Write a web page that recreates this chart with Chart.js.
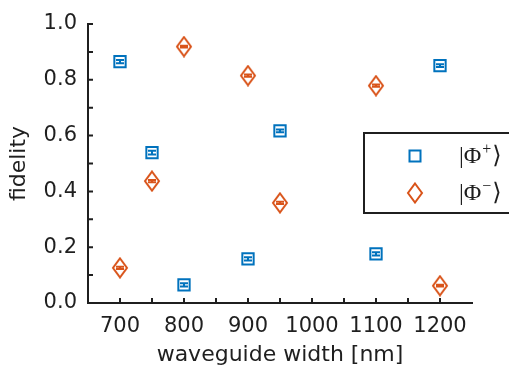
<!DOCTYPE html>
<html>
<head>
<meta charset="utf-8">
<script src="https://cdn.jsdelivr.net/npm/chart.js@4"></script>
<style>
html, body { margin: 0; padding: 0; background: #fff; }
#wrap { width: 509px; height: 366px; }
</style>
</head>
<body>
<div id="wrap"><canvas id="grafico" width="509" height="366"></canvas></div>
<script>
// widths of the waveguides (nm) and measured fidelities
const widths = [700, 750, 800, 900, 950, 1100, 1200];
const phiPlus = [0.865, 0.539, 0.065, 0.158, 0.617, 0.176, 0.851];
const phiPlusErr = [0.006, 0.007, 0.006, 0.006, 0.005, 0.006, 0.005];
const phiMinus = [0.126, 0.437, 0.919, 0.815, 0.359, 0.779, 0.062];
const phiMinusErr = [0.004, 0.004, 0.003, 0.004, 0.004, 0.004, 0.003];

const xTicks = [700, 800, 900, 1000, 1100, 1200];
const yTicks = [0, 0.2, 0.4, 0.6, 0.8, 1.0];
const xMinor = [700, 750, 800, 850, 900, 950, 1000, 1050, 1100, 1150, 1200];
const yMinor = [0, 0.1, 0.2, 0.3, 0.4, 0.5, 0.6, 0.7, 0.8, 0.9, 1.0];

const blue = '#0072BD';
const orange = '#D95319';
const ink = '#1f1f1f';

// diamond marker (taller than wide, like the original)
function makeDiamond() {
    const c = document.createElement('canvas');
    c.width = 18;
    c.height = 22;
    const g = c.getContext('2d');
    g.strokeStyle = orange;
    g.lineWidth = 2;
    g.beginPath();
    g.moveTo(9, 1.5);
    g.lineTo(16, 11);
    g.lineTo(9, 20.5);
    g.lineTo(2, 11);
    g.closePath();
    g.stroke();
    return c;
}
const diamond = makeDiamond();

// small vertical error bars with caps
const errorBars = {
    id: 'errorBars',
    afterDatasetsDraw(chart) {
        const ctx = chart.ctx;
        const y = chart.scales.y;
        const errs = [phiPlusErr, phiMinusErr];
        chart.data.datasets.forEach((ds, i) => {
            const meta = chart.getDatasetMeta(i);
            ctx.save();
            ctx.strokeStyle = ds.borderColor;
            ctx.lineWidth = 2;
            meta.data.forEach((pt, j) => {
                const v = ds.data[j].y;
                const e = errs[i][j];
                const top = y.getPixelForValue(v + e);
                const bot = y.getPixelForValue(v - e);
                ctx.beginPath();
                ctx.moveTo(pt.x, top); ctx.lineTo(pt.x, bot);
                ctx.moveTo(pt.x - 4, top); ctx.lineTo(pt.x + 4, top);
                ctx.moveTo(pt.x - 4, bot); ctx.lineTo(pt.x + 4, bot);
                ctx.stroke();
            });
            ctx.restore();
        });
    }
};

// inward tick marks on both axes
const innerTicks = {
    id: 'innerTicks',
    afterDraw(chart) {
        const ctx = chart.ctx;
        const xs = chart.scales.x, ys = chart.scales.y;
        const a = chart.chartArea;
        ctx.save();
        ctx.strokeStyle = ink;
        ctx.lineWidth = 2;
        ctx.beginPath();
        xMinor.forEach(v => {
            const px = xs.getPixelForValue(v);
            ctx.moveTo(px, a.bottom); ctx.lineTo(px, a.bottom - 5);
        });
        yMinor.forEach(v => {
            const py = ys.getPixelForValue(v);
            ctx.moveTo(a.left, py); ctx.lineTo(a.left + 5, py);
        });
        ctx.stroke();
        ctx.restore();
    }
};

// legend box drawn by hand, half outside the canvas like the original
const legendBox = {
    id: 'legendBox',
    afterDraw(chart) {
        const ctx = chart.ctx;
        ctx.save();
        ctx.fillStyle = '#fff';
        ctx.fillRect(364, 133, 150, 80);
        ctx.strokeStyle = ink;
        ctx.lineWidth = 2;
        ctx.strokeRect(364, 133, 150, 80);

        ctx.strokeStyle = blue;
        ctx.strokeRect(409.5, 150.5, 11, 11);
        ctx.drawImage(diamond, 406, 182);

        const labels = [['+', 157], ['\u2212', 194]];
        ctx.fillStyle = ink;
        ctx.textBaseline = 'middle';
        labels.forEach(([sup, yy]) => {
            let x = 459;
            ctx.font = '24px "Liberation Serif", "DejaVu Serif"';
            ctx.fillText('|\u03A6', x, yy);
            x += ctx.measureText('|\u03A6').width + 1;
            ctx.font = '16px "Liberation Serif", "DejaVu Serif"';
            ctx.fillText(sup, x, yy - 7);
            x += ctx.measureText(sup).width + 1;
            ctx.font = '24px "DejaVu Serif"';
            ctx.fillText('\u27E9', x, yy);
        });
        ctx.restore();
    }
};

const ctx = document.getElementById('grafico').getContext('2d');
new Chart(ctx, {
    type: 'scatter',
    data: {
        datasets: [
            {
                label: '|\u03A6+\u27E9',
                data: widths.map((w, i) => ({ x: w, y: phiPlus[i] })),
                borderColor: blue,
                backgroundColor: 'rgba(0,0,0,0)',
                pointStyle: 'rect',
                pointRadius: 8,
                pointBorderWidth: 2
            },
            {
                label: '|\u03A6\u2212\u27E9',
                data: widths.map((w, i) => ({ x: w, y: phiMinus[i] })),
                borderColor: orange,
                backgroundColor: 'rgba(0,0,0,0)',
                pointStyle: diamond,
                pointRadius: 10
            }
        ]
    },
    options: {
        responsive: false,
        animation: false,
        devicePixelRatio: 1,
        layout: { padding: { top: 24, right: 37, left: 0, bottom: 0 } },
        plugins: {
            legend: { display: false },
            tooltip: { enabled: false }
        },
        scales: {
            x: {
                type: 'linear',
                min: 650,
                max: 1250,
                afterBuildTicks: s => { s.ticks = xTicks.map(v => ({ value: v })); },
                afterFit: s => { s.height = 63; },
                grid: { display: false, drawTicks: false },
                border: { display: true, color: ink, width: 2 },
                ticks: {
                    color: ink,
                    padding: 11,
                    maxRotation: 0,
                    callback: v => String(v),
                    font: { family: 'DejaVu Sans', size: 21 }
                },
                title: {
                    display: true,
                    text: 'waveguide width [nm]',
                    color: ink,
                    padding: 0,
                    font: { family: 'DejaVu Sans', size: 22, lineHeight: 1 }
                }
            },
            y: {
                min: 0,
                max: 1,
                afterBuildTicks: s => { s.ticks = yTicks.map(v => ({ value: v })); },
                afterFit: s => { s.width = 88; },
                grid: { display: false, drawTicks: false },
                border: { display: true, color: ink, width: 2 },
                ticks: {
                    color: ink,
                    padding: 11,
                    callback: v => v.toFixed(1),
                    font: { family: 'DejaVu Sans', size: 21 }
                },
                title: {
                    display: true,
                    text: 'fidelity',
                    color: ink,
                    padding: 8,
                    font: { family: 'DejaVu Sans', size: 22, lineHeight: 1 }
                }
            }
        }
    },
    plugins: [errorBars, innerTicks, legendBox]
});
</script>
</body>
</html>
